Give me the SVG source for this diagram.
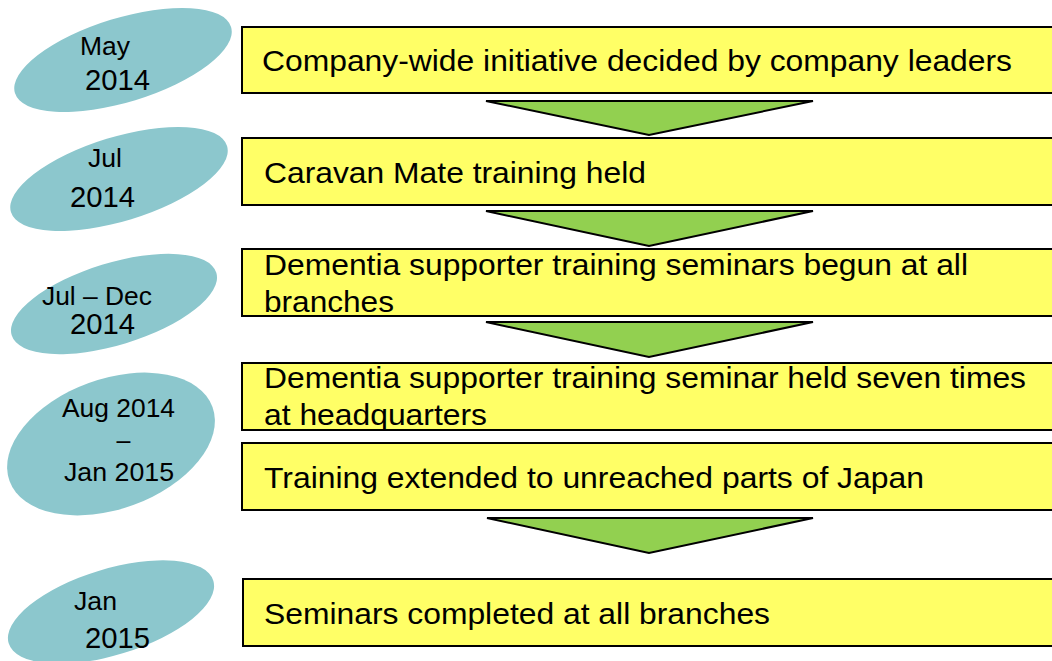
<svg xmlns="http://www.w3.org/2000/svg" width="1052" height="661" viewBox="0 0 1052 661">
<style>
.ell{fill:#8CC7CD;stroke:none}
.box{fill:#FFFF66;stroke:#000;stroke-width:2}
.arr{fill:#92D050;stroke:#000;stroke-width:2;stroke-linejoin:miter}
.bt{font-family:"Liberation Sans",Arial,sans-serif;font-size:29px;fill:#000}
.et{font-family:"Liberation Sans",Arial,sans-serif;font-size:25px;fill:#000}
.ey{font-family:"Liberation Sans",Arial,sans-serif;font-size:29px;fill:#000}
</style>
<rect width="1052" height="661" fill="#fff"/>
<g id="connectors">
<polygon class="arr" points="486,101 813,101 649,135"/>
<polygon class="arr" points="486,211 813,211 649,246"/>
<polygon class="arr" points="486,322 813,322 649,357"/>
<polygon class="arr" points="487,518 813,518 649,553"/>
</g>
<g id="date1">
<ellipse class="ell" cx="123" cy="60" rx="113" ry="42" transform="rotate(-17 123 60)"/>
<text class="et" x="80" y="55" textLength="50" lengthAdjust="spacingAndGlyphs">May</text>
<text class="ey" x="85" y="90" textLength="65" lengthAdjust="spacingAndGlyphs">2014</text>
</g>
<g id="date2">
<ellipse class="ell" cx="119" cy="179" rx="113" ry="42" transform="rotate(-17 119 179)"/>
<text class="et" x="88" y="167" textLength="34" lengthAdjust="spacingAndGlyphs">Jul</text>
<text class="ey" x="70" y="207" textLength="65" lengthAdjust="spacingAndGlyphs">2014</text>
</g>
<g id="date3">
<ellipse class="ell" cx="114" cy="304" rx="107" ry="41" transform="rotate(-17 114 304)"/>
<text class="et" x="42" y="305" textLength="110" lengthAdjust="spacingAndGlyphs">Jul – Dec</text>
<text class="ey" x="70" y="334" textLength="65" lengthAdjust="spacingAndGlyphs">2014</text>
</g>
<g id="date4">
<ellipse class="ell" cx="111" cy="444" rx="108" ry="65" transform="rotate(-20 111 444)"/>
<text class="et" x="62" y="417" textLength="113" lengthAdjust="spacingAndGlyphs">Aug 2014</text>
<text class="et" x="123.5" y="449" text-anchor="middle">–</text>
<text class="et" x="64" y="481" textLength="110" lengthAdjust="spacingAndGlyphs">Jan 2015</text>
</g>
<g id="date5">
<ellipse class="ell" cx="111" cy="612" rx="107" ry="43" transform="rotate(-17 111 612)"/>
<text class="et" x="74" y="610" textLength="43" lengthAdjust="spacingAndGlyphs">Jan</text>
<text class="ey" x="85" y="648" textLength="65" lengthAdjust="spacingAndGlyphs">2015</text>
</g>
<g id="step1">
<rect class="box" x="242" y="27" width="820" height="66"/>
<text class="bt" x="262" y="71" textLength="750" lengthAdjust="spacingAndGlyphs">Company-wide initiative decided by company leaders</text>
</g>
<g id="step2">
<rect class="box" x="242" y="138" width="820" height="67"/>
<text class="bt" x="264" y="183" textLength="382" lengthAdjust="spacingAndGlyphs">Caravan Mate training held</text>
</g>
<g id="step3">
<rect class="box" x="242" y="249" width="820" height="67"/>
<text class="bt" x="264" y="275" textLength="704" lengthAdjust="spacingAndGlyphs">Dementia supporter training seminars begun at all</text>
<text class="bt" x="264" y="312" textLength="130" lengthAdjust="spacingAndGlyphs">branches</text>
</g>
<g id="step4">
<rect class="box" x="242" y="363" width="820" height="67"/>
<text class="bt" x="264" y="388" textLength="762" lengthAdjust="spacingAndGlyphs">Dementia supporter training seminar held seven times</text>
<text class="bt" x="264" y="425" textLength="223" lengthAdjust="spacingAndGlyphs">at headquarters</text>
</g>
<g id="step5">
<rect class="box" x="242" y="443" width="820" height="67"/>
<text class="bt" x="264" y="488" textLength="660" lengthAdjust="spacingAndGlyphs">Training extended to unreached parts of Japan</text>
</g>
<g id="step6">
<rect class="box" x="243" y="579" width="820" height="67"/>
<text class="bt" x="264" y="624" textLength="506" lengthAdjust="spacingAndGlyphs">Seminars completed at all branches</text>
</g>
</svg>
